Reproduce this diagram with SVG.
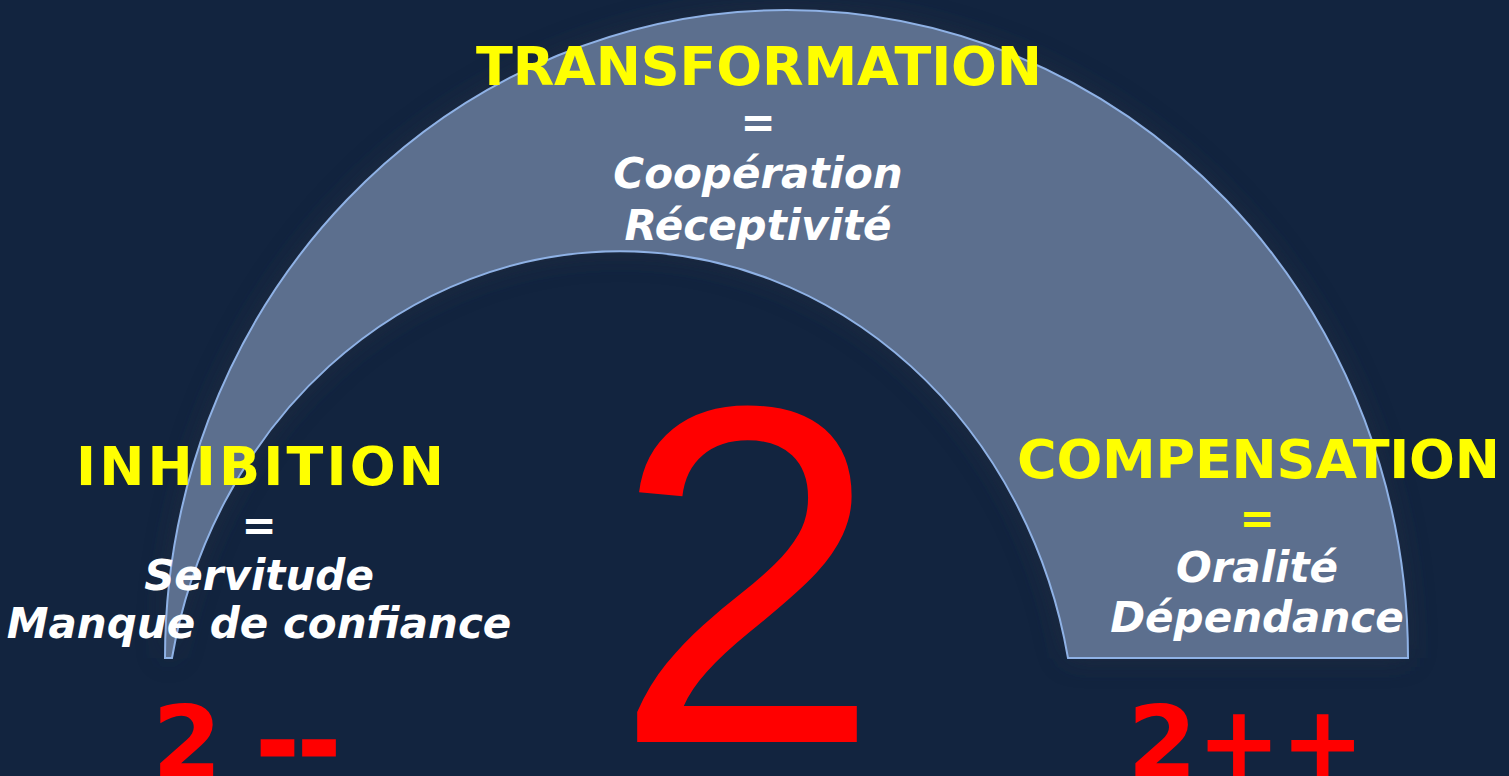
<svg xmlns="http://www.w3.org/2000/svg" width="1509" height="776" viewBox="0 0 1509 776">
<defs>
<style>
.t{font-family:"DejaVu Sans",Verdana,sans-serif;font-weight:bold}
.m{text-anchor:middle}
.y{fill:#ffff00}
.w{fill:#ffffff}
.i{font-style:italic;font-size:42px;text-anchor:middle}
.r{fill:#ff0000}
.h{font-size:54px}
.eq{font-size:42px;text-anchor:middle}
</style>
<filter id="glow" x="-10%" y="-10%" width="120%" height="130%">
<feGaussianBlur stdDeviation="14"/>
</filter>
</defs>
<rect width="1509" height="776" fill="#12243f"/>
<g id="arc">
<path d="M165,658 A621.5,648 0 0 1 1408,658 L1068,658 A456,500 0 0 0 172,658 Z" fill="#2a3340" opacity="0.6" filter="url(#glow)"/>
<path d="M165,658 A621.5,648 0 0 1 1408,658 L1068,658 A456,500 0 0 0 172,658 Z" fill="#5c6f8e" stroke="#8fb2e6" stroke-width="2"/>
</g>
<g id="transformation">
<text class="t y h" x="476" y="85" textLength="566" lengthAdjust="spacing">TRANSFORMATION</text>
<text class="t w eq" x="758" y="137">=</text>
<text class="t w i" x="758" y="188">Coopération</text>
<text class="t w i" x="758" y="240">Réceptivité</text>
</g>
<g id="inhibition">
<text class="t y h" x="76" y="485" textLength="368" lengthAdjust="spacing">INHIBITION</text>
<text class="t w eq" x="259" y="540">=</text>
<text class="t w i" x="259" y="590">Servitude</text>
<text class="t w i" x="259" y="638">Manque de confiance</text>
</g>
<g id="compensation">
<text class="t y h" x="1017" y="478" textLength="483" lengthAdjust="spacing">COMPENSATION</text>
<text class="t y eq" x="1257" y="533">=</text>
<text class="t w i" x="1257" y="582">Oralité</text>
<text class="t w i" x="1257" y="632">Dépendance</text>
</g>
<g id="center">
<text x="747" y="742" font-family="'Liberation Sans',Arial,sans-serif" font-size="482" text-anchor="middle" class="r">2</text>
</g>
<g id="left-value">
<text class="t r m" x="246" y="777" font-size="100">2 <tspan stroke="#ff0000" stroke-width="3">--</tspan></text>
</g>
<g id="right-value">
<text class="t r m" x="1246" y="777" font-size="100">2++</text>
</g>
</svg>
